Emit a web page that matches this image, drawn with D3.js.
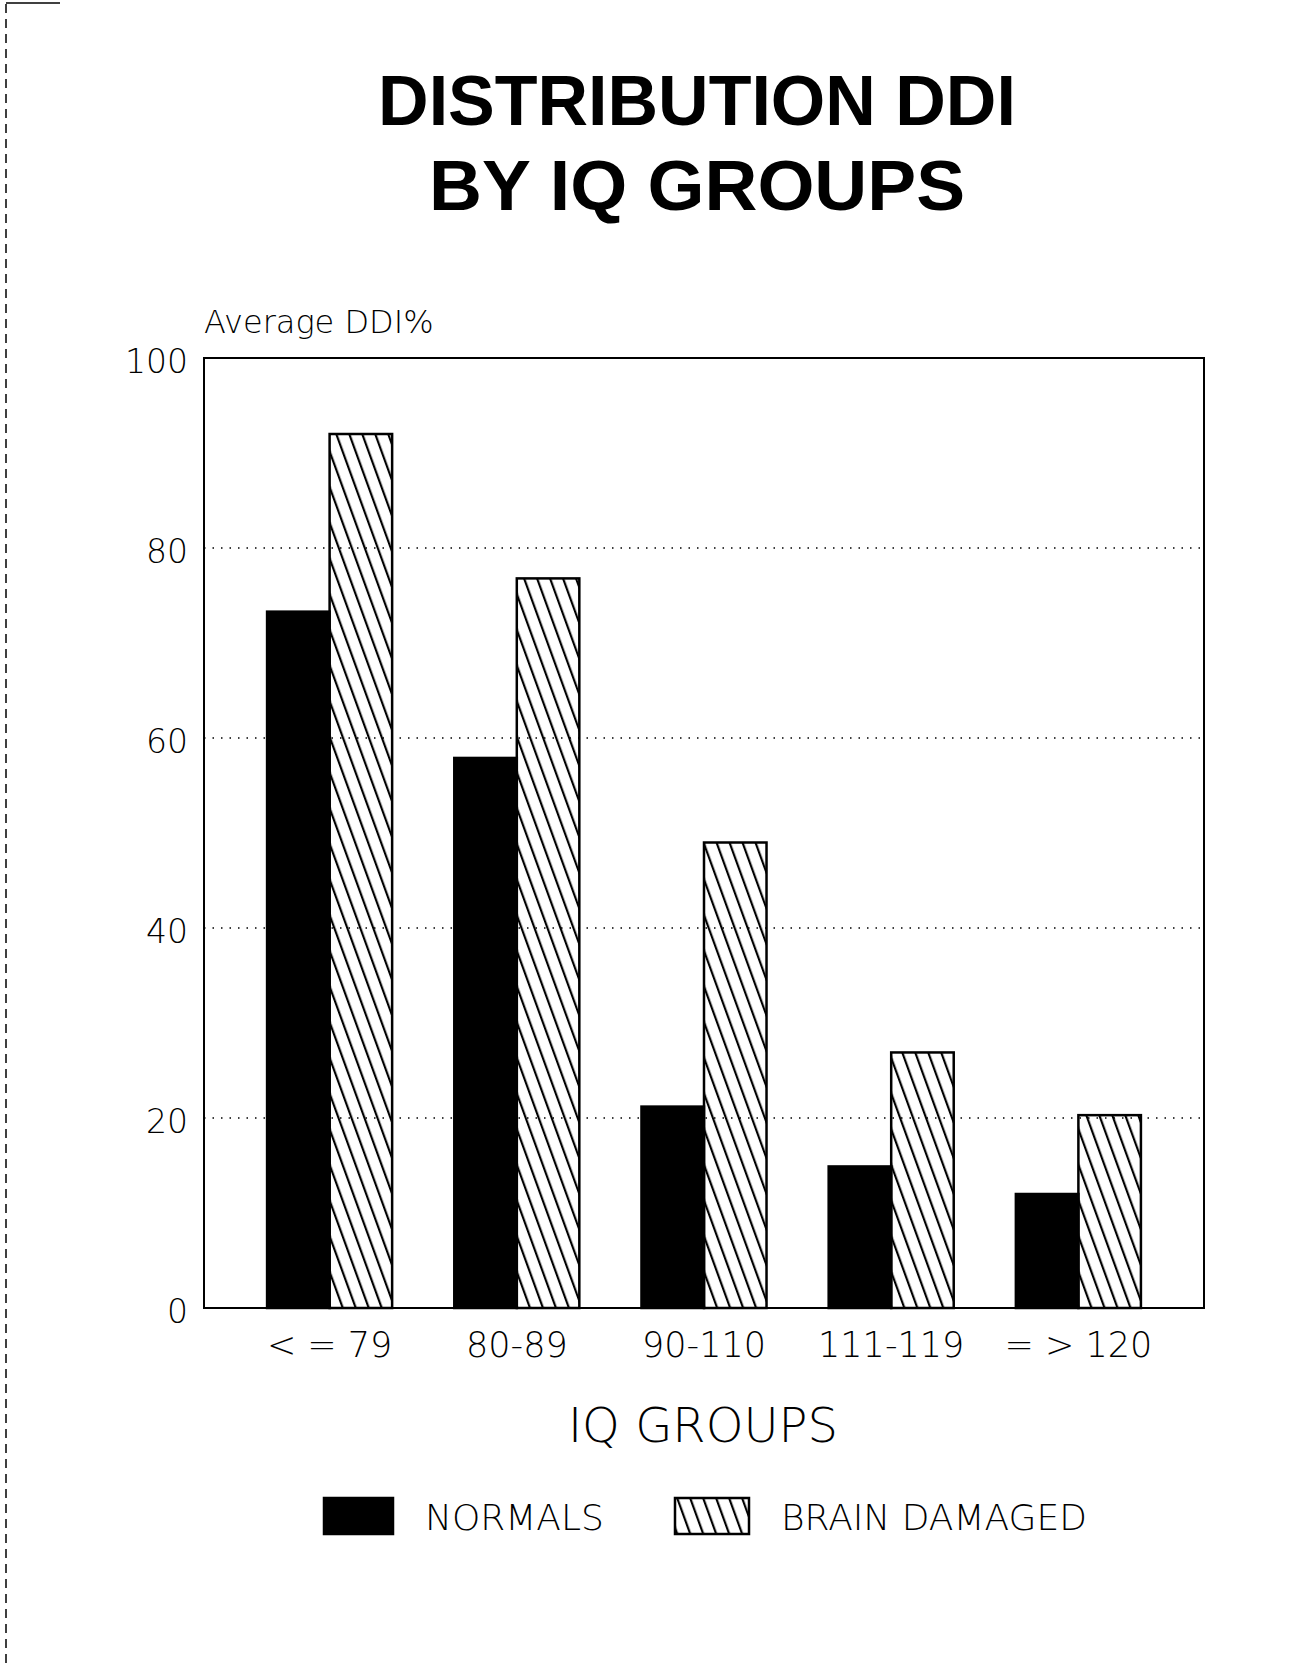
<!DOCTYPE html>
<html>
<head>
<meta charset="utf-8">
<script src="https://cdn.jsdelivr.net/npm/d3@7"></script>
<style>
  body { margin: 0; background: #fff; }
  svg { display: block; }
  .thin { font-family: "DejaVu Sans", sans-serif; font-weight: 200; fill: #000; }
</style>
</head>
<body>
<svg id="chart"></svg>
<script>
// data
var groups = ["< = 79", "80-89", "90-110", "111-119", "= > 120"]
var series = ["NORMALS", "BRAIN DAMAGED"]
var normals = [73.3, 57.9, 21.2, 14.9, 12.0]
var brainDamaged = [92.0, 76.8, 49.0, 26.9, 20.3]
var yTicks = [0, 20, 40, 60, 80, 100]
var gridTicks = [20, 40, 60, 80]

var W = 1301, H = 1667
// plot box (window.top is reserved, so no plain "top")
var pLeft = 204, pRight = 1204, pTop = 358, pBottom = 1308

var svg = d3.select("#chart").attr("width", W).attr("height", H)

// hatch pattern for the brain damaged bars
var defs = svg.append("defs")
defs.append("pattern")
    .attr("id", "hatch")
    .attr("patternUnits", "userSpaceOnUse")
    .attr("width", 12.2)
    .attr("height", 40)
    .attr("patternTransform", "rotate(-20)")
  .append("line")
    .attr("x1", 2).attr("y1", 0)
    .attr("x2", 2).attr("y2", 40)
    .attr("stroke", "#000")
    .attr("stroke-width", 2.2)

// page edge left over from the scan
svg.append("line")
    .attr("x1", 6).attr("y1", 4).attr("x2", 6).attr("y2", H)
    .attr("stroke", "#000").attr("stroke-width", 1.5)
    .attr("stroke-dasharray", "9,6")
svg.append("line")
    .attr("x1", 6).attr("y1", 3).attr("x2", 60).attr("y2", 3)
    .attr("stroke", "#000").attr("stroke-width", 1.5)

// title
var title = svg.append("g")
    .attr("font-family", "'Liberation Sans', Arial, sans-serif")
    .attr("font-weight", "bold")
    .attr("font-size", 70)
    .attr("text-anchor", "middle")
title.append("text").attr("x", 697).attr("y", 125).text("DISTRIBUTION DDI")
title.append("text").attr("x", 697).attr("y", 210)
    .attr("textLength", 536).attr("lengthAdjust", "spacingAndGlyphs")
    .text("BY IQ GROUPS")

var x0 = d3.scaleBand()
    .domain(groups)
    .range([pLeft, pRight])
    .paddingInner(0.332)
    .paddingOuter(0.337)

var x1 = d3.scaleBand()
    .domain(series)
    .range([0, x0.bandwidth()])

var y = d3.scaleLinear()
    .domain([0, 100])
    .range([pBottom, pTop])

// dotted grid
svg.append("g").selectAll("line")
    .data(gridTicks)
    .enter().append("line")
    .attr("x1", pLeft).attr("x2", pRight)
    .attr("y1", function(d) { return y(d); })
    .attr("y2", function(d) { return y(d); })
    .attr("stroke", "#000")
    .attr("stroke-width", 1.6)
    .attr("stroke-dasharray", "1.5,7")

// bars
var rows = groups.map(function(g, i) {
    return { group: g, values: [
        { key: series[0], value: normals[i] },
        { key: series[1], value: brainDamaged[i] }
    ]}
})

var grp = svg.append("g").selectAll("g")
    .data(rows)
    .enter().append("g")
    .attr("transform", function(d) { return "translate(" + x0(d.group) + ",0)"; })

grp.selectAll("rect")
    .data(function(d) { return d.values; })
    .enter().append("rect")
    .attr("x", function(d) { return x1(d.key); })
    .attr("width", x1.bandwidth())
    .attr("y", function(d) { return y(d.value); })
    .attr("height", function(d) { return y(0) - y(d.value); })
    .attr("fill", function(d) { return d.key == series[0] ? "#000" : "url(#hatch)"; })
    .attr("stroke", "#000")
    .attr("stroke-width", 2.5)

// plot frame
svg.append("rect")
    .attr("x", pLeft).attr("y", pTop)
    .attr("width", pRight - pLeft).attr("height", pBottom - pTop)
    .attr("fill", "none")
    .attr("stroke", "#000")
    .attr("stroke-width", 2)

// y axis labels
var yAxis = d3.axisLeft(y).tickValues(yTicks).tickSize(0).tickPadding(16)
var yg = svg.append("g")
    .attr("transform", "translate(" + pLeft + ",0)")
    .call(yAxis)
yg.select(".domain").remove()
yg.selectAll("text")
    .attr("class", "thin")
    .attr("font-size", 33)
    .attr("dy", "0.45em")

svg.append("text")
    .attr("class", "thin")
    .attr("x", 204).attr("y", 333)
    .attr("font-size", 32)
    .text("Average DDI%")

// x axis labels
var xAxis = d3.axisBottom(x0).tickSize(0).tickPadding(24)
var xg = svg.append("g")
    .attr("transform", "translate(0," + pBottom + ")")
    .call(xAxis)
xg.select(".domain").remove()
xg.selectAll("text")
    .attr("class", "thin")
    .attr("font-size", 35)

svg.append("text")
    .attr("class", "thin")
    .attr("x", 703).attr("y", 1442)
    .attr("text-anchor", "middle")
    .attr("font-size", 48)
    .text("IQ GROUPS")

// legend
var legend = svg.append("g")
var legX = [324, 675], legText = [425, 781]
series.forEach(function(s, i) {
    legend.append("rect")
        .attr("x", legX[i]).attr("y", 1498)
        .attr("width", i == 0 ? 69 : 74).attr("height", 36)
        .attr("fill", i == 0 ? "#000" : "url(#hatch)")
        .attr("stroke", "#000").attr("stroke-width", 2.5)
    legend.append("text")
        .attr("class", "thin")
        .attr("x", legText[i]).attr("y", 1530)
        .attr("font-size", 36)
        .text(s)
})
</script>
</body>
</html>
